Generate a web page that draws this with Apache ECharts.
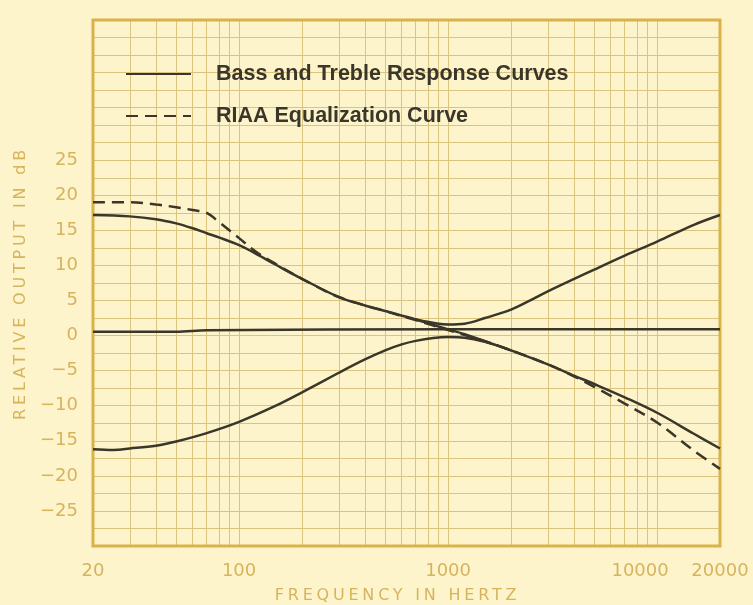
<!DOCTYPE html>
<html><head><meta charset="utf-8">
<script src="https://cdn.jsdelivr.net/npm/echarts@6/dist/echarts.min.js"></script>
<style>html,body{margin:0;padding:0;background:#fdf4cb}#c{width:753px;height:605px}</style>
</head><body><div id="c"></div>
<script>
// ---- data ----
const NAME_SOLID = 'Bass and Treble Response Curves';
const NAME_DASH = 'RIAA Equalization Curve';

const freqA = [20,30,40,50,60,70,80,100,120,150,200,300,400,500,700,900,1000,1200,1500,2000,3000,4000,5000,7000,10000,15000,20000];
const bassBoostTrebleCut = [17.2,17.0,16.6,16.0,15.3,14.6,14.0,12.9,11.7,10.1,8.1,5.5,4.3,3.5,2.3,1.3,0.9,0.2,-0.8,-2.1,-4.1,-5.7,-6.9,-8.8,-11.0,-14.0,-16.1];

const freqB = [20,25,30,40,50,70,100,150,200,300,400,500,600,700,850,1000,1200,1500,2000];
const bassCut = [-16.2,-16.3,-16.1,-15.7,-15.1,-13.9,-12.3,-10.0,-8.1,-5.3,-3.4,-2.1,-1.25,-0.75,-0.35,-0.2,-0.3,-0.9,-2.1];

const freqC = [700,900,1000,1200,1500,2000,2500,3000,5000,7000,10000,15000,20000];
const trebleBoost = [2.3,1.7,1.6,1.7,2.5,3.7,5.1,6.3,9.4,11.4,13.4,15.8,17.2];

const freqF = [20,50,70,1000,20000];
const flat = [0.55,0.55,0.75,0.9,0.9];

const freqR = [20,30,40,50,60,70,80,100,120,150,200,300,500,700,1000,1500,2000,3000,4000,5000,7000,10000,15000,20000];
const riaa = [19.0,19.0,18.7,18.3,17.9,17.5,16.2,13.9,12.0,10.2,8.1,5.5,3.5,2.2,0.8,-0.8,-2.1,-4.1,-5.8,-7.3,-9.7,-12.4,-16.4,-19.0];

const gridFreqs = [30,40,50,60,70,80,90,100,200,300,400,500,600,700,800,900,1000,2000,3000,4000,5000,6000,7000,8000,9000,10000];
const xTickLabels = [20,100,1000,10000,20000];
const yTickLabels = [-25,-20,-15,-10,-5,0,5,10,15,20,25];

// ---- styles ----
const GRID = '#dbc47e';
const GOLD = '#d6b45c';
const INK = '#3a3629';
const AXIS_FONT = 'DejaVu Sans, Verdana, sans-serif';

// letter spacing for the spaced-out axis titles
const SPACED = {'FREQUENCY IN HERTZ': '3.8px', 'RELATIVE OUTPUT IN dB': '3.8px'};
const origFill = CanvasRenderingContext2D.prototype.fillText;
CanvasRenderingContext2D.prototype.fillText = function (t, x, y, w) {
  if ('letterSpacing' in this) this.letterSpacing = SPACED[t] || '0px';
  return w === undefined ? origFill.call(this, t, x, y) : origFill.call(this, t, x, y, w);
};

const pairs = (xs, ys) => xs.map((x, i) => [x, ys[i]]);
const solid = (xs, ys) => ({
  name: NAME_SOLID, type: 'line', data: pairs(xs, ys), symbol: 'none', smooth: 0.35,
  lineStyle: {color: INK, width: 2.5}, itemStyle: {color: INK}
});

const chart = echarts.init(document.getElementById('c'), null, {renderer: 'canvas'});
chart.setOption({
  backgroundColor: '#fdf4cb',
  animation: false,
  grid: {left: 93, right: 33, top: 20, bottom: 59, show: true, z: 3,
         outerBoundsMode: 'none', containLabel: false,
         borderColor: '#d9b24c', borderWidth: 3, backgroundColor: 'transparent'},
  legend: {
    left: 125, top: 62, padding: 0, orient: 'vertical', itemWidth: 65, itemHeight: 14, itemGap: 18,
    data: [NAME_SOLID, NAME_DASH],
    itemStyle: {opacity: 0, color: 'transparent', borderWidth: 0},
    textStyle: {fontFamily: 'Liberation Sans, Arial, sans-serif', fontWeight: 'bold', fontSize: 21.5,
                color: INK, padding: [0, 0, 0, 20], lineHeight: 24}
  },
  xAxis: {
    type: 'log', logBase: 10, min: 20, max: 20000,
    axisLine: {show: false},
    axisTick: {show: false, customValues: gridFreqs},
    splitLine: {show: true, lineStyle: {color: GRID, width: 1}},
    axisLabel: {
      customValues: xTickLabels, margin: 16, color: GOLD, fontFamily: AXIS_FONT, fontSize: 18,
      formatter: v => { const r = Math.round(v); return r === 10000 ? '{s|10000}' : String(r); },
      rich: {s: {padding: [0, 34, 0, 0], color: GOLD, fontFamily: AXIS_FONT, fontSize: 18}}
    },
    name: 'FREQUENCY IN HERTZ', nameLocation: 'middle', nameGap: 42,
    nameTextStyle: {color: GOLD, fontFamily: AXIS_FONT, fontSize: 16, padding: [0, 18, 0, 0]}
  },
  yAxis: {
    type: 'value', min: -30, max: 45, interval: 2.5,
    axisLine: {show: false}, axisTick: {show: false},
    splitLine: {show: true, showMinLine: false, showMaxLine: false, lineStyle: {color: GRID, width: 1}},
    axisLabel: {
      margin: 15, color: GOLD, fontFamily: AXIS_FONT, fontSize: 18, padding: [3, 0, 0, 0],
      formatter: v => {
        const r = Math.round(v * 10) / 10;
        if (!yTickLabels.includes(r)) return '';
        return r < 0 ? '\u2212' + Math.abs(r) : String(r);
      }
    },
    name: 'RELATIVE OUTPUT IN dB', nameLocation: 'middle', nameGap: 64, nameRotate: 90,
    nameTextStyle: {color: GOLD, fontFamily: AXIS_FONT, fontSize: 16}
  },
  series: [
    solid(freqF, flat),
    solid(freqA, bassBoostTrebleCut),
    solid(freqB, bassCut),
    solid(freqC, trebleBoost),
    {name: NAME_DASH, type: 'line', data: pairs(freqR, riaa), symbol: 'none', smooth: 0.35,
     lineStyle: {color: INK, width: 2.5, type: [12, 7]}, itemStyle: {color: INK}}
  ]
});
</script></body></html>
